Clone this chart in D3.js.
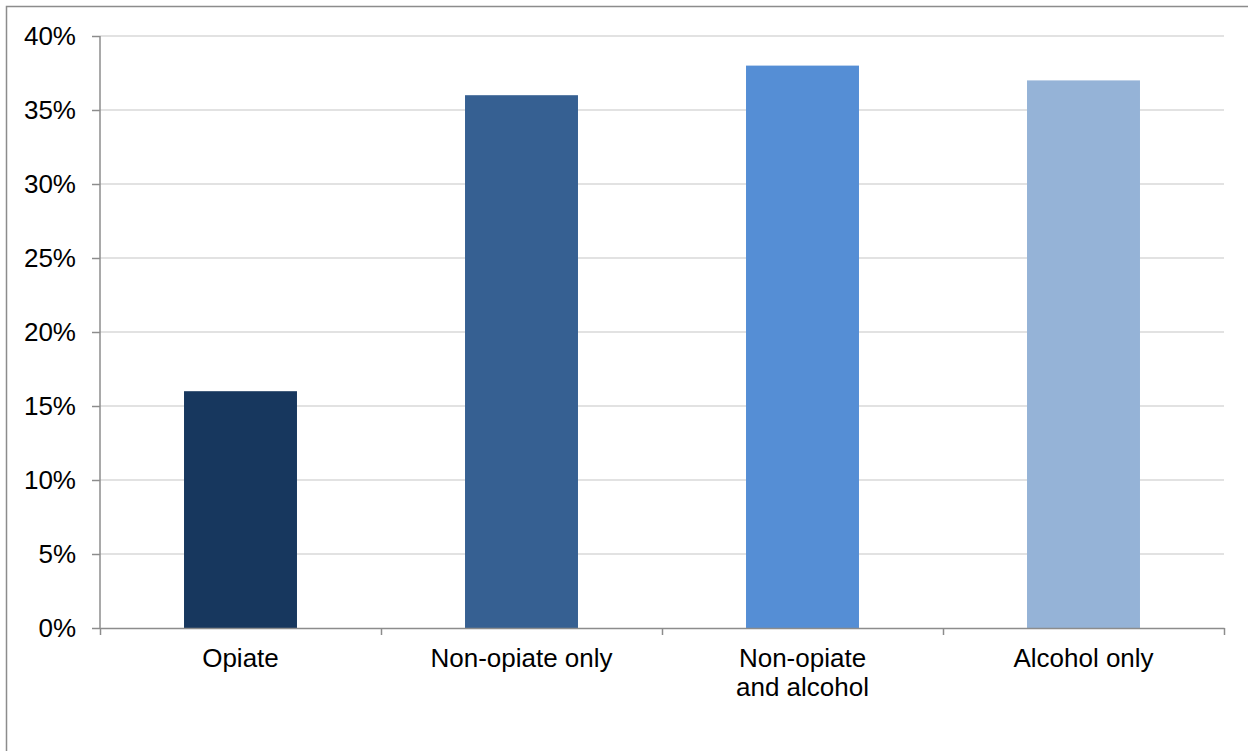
<!DOCTYPE html>
<html>
<head>
<meta charset="utf-8">
<script src="https://cdn.jsdelivr.net/npm/d3@7"></script>
<style>
  html, body { margin: 0; padding: 0; background: #fff; }
  svg { display: block; }
  text { font-family: "Liberation Sans", Arial, sans-serif; fill: #000; }
</style>
</head>
<body>
<svg id="chart" width="1248" height="751"></svg>
<script>
const categories = ["Opiate", "Non-opiate only", "Non-opiate\nand alcohol", "Alcohol only"];
const values = [0.16, 0.36, 0.38, 0.37];
const barColors = ["#17375E", "#366092", "#558ED5", "#95B3D7"];
const yTicks = [0, 0.05, 0.10, 0.15, 0.20, 0.25, 0.30, 0.35, 0.40];

(function () {
const W = 1248, H = 751;
const pLeft = 100, pRight = 1224, pTop = 36, pBottom = 628;
const svg = d3.select("#chart");

// outer chart border (only top and left visible)
svg.append("rect")
  .attr("x", 6.5).attr("y", 6.5)
  .attr("width", W + 20).attr("height", H + 20)
  .attr("fill", "none").attr("stroke", "#8C8C8C").attr("stroke-width", 1.5);

const x = d3.scaleBand().domain(categories).range([pLeft, pRight])
  .paddingInner(0.598).paddingOuter(0.299);
const xEdge = d3.scaleLinear().domain([0, categories.length]).range([pLeft, pRight]);
const y = d3.scaleLinear().domain([0, 0.40]).range([pBottom, pTop]);

// gridlines
svg.append("g").selectAll("line").data(yTicks.filter(d => d > 0)).join("line")
  .attr("x1", pLeft).attr("x2", pRight)
  .attr("y1", d => y(d)).attr("y2", d => y(d))
  .attr("stroke", "#D9D9D9").attr("stroke-width", 1.5);

// bars
svg.append("g").selectAll("rect").data(values).join("rect")
  .attr("x", (d, i) => x(categories[i]))
  .attr("width", x.bandwidth())
  .attr("y", d => y(d))
  .attr("height", d => pBottom - y(d))
  .attr("fill", (d, i) => barColors[i]);

// y axis
const yAxis = svg.append("g").attr("transform", `translate(${pLeft},0)`)
  .call(d3.axisLeft(y).tickValues(yTicks).tickFormat(d3.format(".0%")).tickSize(8).tickPadding(16));
yAxis.selectAll("path, line").attr("stroke", "#8C8C8C").attr("stroke-width", 1.5);
yAxis.select(".domain").attr("d", `M0,${pTop}V${pBottom}`);
yAxis.selectAll("text").attr("font-size", 26).attr("font-family", "Liberation Sans, Arial, sans-serif").attr("fill", "#000");

// x axis edges
const xAxis = svg.append("g").attr("transform", `translate(0,${pBottom})`)
  .call(d3.axisBottom(xEdge).tickValues(d3.range(categories.length + 1)).tickFormat("").tickSize(7).tickSizeOuter(0));
xAxis.selectAll("path, line").attr("stroke", "#8C8C8C").attr("stroke-width", 1.5);

// category labels
const labels = svg.append("g").selectAll("text").data(categories).join("text")
  .attr("x", d => x(d) + x.bandwidth() / 2)
  .attr("y", 667)
  .attr("text-anchor", "middle")
  .attr("font-size", 26);
labels.each(function(d) {
  const lines = d.split("\n");
  const t = d3.select(this);
  lines.forEach((ln, i) => {
    t.append("tspan").attr("x", t.attr("x")).attr("dy", i === 0 ? 0 : 29).text(ln);
  });
});
})();
</script>
</body>
</html>
